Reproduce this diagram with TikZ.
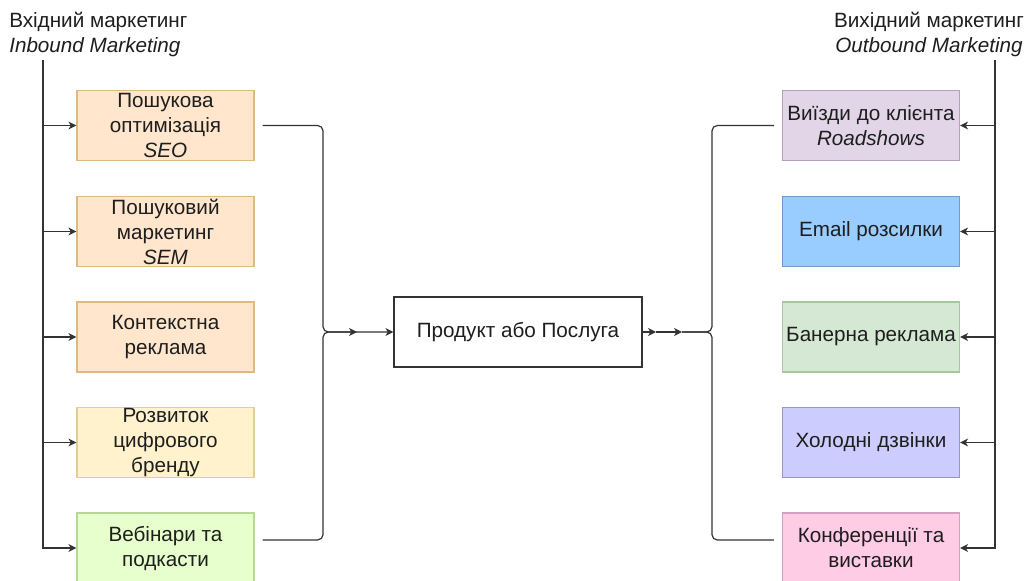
\documentclass[tikz,border=0pt]{standalone}
\usepackage{fontspec}
\setmainfont{Liberation Sans}
\usetikzlibrary{arrows.meta}
\definecolor{txt}{HTML}{1E1E1E}
\definecolor{ln}{HTML}{333333}
\definecolor{orF}{RGB}{255,230,204}\definecolor{orD}{RGB}{222,186,130}
\definecolor{yeF}{RGB}{255,242,204}\definecolor{yeD}{RGB}{226,206,150}
\definecolor{lgF}{RGB}{230,255,204}\definecolor{lgD}{RGB}{182,216,150}
\definecolor{puF}{RGB}{225,213,231}\definecolor{puD}{RGB}{180,160,190}
\definecolor{blF}{RGB}{153,204,255}\definecolor{blD}{RGB}{112,155,205}
\definecolor{grF}{RGB}{213,232,212}\definecolor{grD}{RGB}{165,200,158}
\definecolor{laF}{RGB}{204,204,255}\definecolor{laD}{RGB}{150,150,205}
\definecolor{piF}{RGB}{255,204,230}\definecolor{piD}{RGB}{212,160,192}
\tikzset{
  lbl/.style={font=\fontsize{15.5pt}{18.75pt}\selectfont, text=txt, inner sep=0pt},
  box/.style={lbl, draw, line width=0.9pt, align=center, minimum width=132.75pt, minimum height=52.5pt},
  conn/.style={draw=ln, line width=0.9pt},
  tip/.style={-{Stealth[length=6pt,width=6pt,inset=1.8pt]}},
}
\begin{document}
\begin{tikzpicture}[x=0.75pt,y=-0.75pt]
\useasboundingbox (0,0) rectangle (1033,581);
% headers
\node[lbl, anchor=base west] (hl1) at (9,28) {Вхідний маркетинг};
\node[lbl, anchor=base west] (hl2) at (9,53) {\itshape Inbound Marketing};
\node[lbl, anchor=base] (hr1) at (929,28) {Вихідний маркетинг};
\node[lbl, anchor=base] (hr2) at (929,53) {\itshape Outbound Marketing};
% left boxes
\node[box, fill=orF, draw=orD] (l1) at (165.5,125.5) {Пошукова\\оптимізація\\\itshape SEO};
\node[box, fill=orF, draw=orD] (l2) at (165.5,231.5) {Пошуковий\\маркетинг\\\itshape SEM};
\node[box, fill=orF, draw=orD] (l3) at (165.5,337) {Контекстна\\реклама};
\node[box, fill=yeF, draw=yeD] (l4) at (165.5,442.5) {Розвиток\\цифрового\\бренду};
\node[box, fill=lgF, draw=lgD] (l5) at (165.5,548) {Вебінари та\\подкасти};
% right boxes
\node[box, fill=puF, draw=puD] (r1) at (871,125.5) {Виїзди до клієнта\\\itshape Roadshows};
\node[box, fill=blF, draw=blD] (r2) at (871,231.5) {Email розсилки};
\node[box, fill=grF, draw=grD] (r3) at (871,337) {Банерна реклама};
\node[box, fill=laF, draw=laD] (r4) at (871,442.5) {Холодні дзвінки};
\node[box, fill=piF, draw=piD] (r5) at (871,548) {Конференції та\\виставки};
% centre
\node[box, fill=white, draw=ln, minimum width=186pt] (c) at (518,332) {Продукт або Послуга};
% coordinates
\coordinate (ltop) at (43,60);
\coordinate (rtop) at (995,60);
\coordinate (lj) at (323,332);
\coordinate (lm) at (357,332);
\coordinate (rm1) at (656,332);
\coordinate (rm2) at (682,332);
\coordinate (rj) at (712,332);
% left trunk
\draw[conn, tip] (ltop) |- (l5.west);
\foreach \n in {l1,l2,l3,l4}{\draw[conn, tip] (ltop |- \n.west) -- (\n.west);}
% right trunk
\draw[conn, tip] (rtop) |- (r5.east);
\foreach \n in {r1,r2,r3,r4}{\draw[conn, tip] (rtop |- \n.east) -- (\n.east);}
% left to centre
\draw[conn, tip, rounded corners=4pt] ([xshift=6pt]l1.east) -| (lj) -- (lm);
\draw[conn, tip, rounded corners=4pt] ([xshift=6pt,yshift=6pt]l5.east) -| (lj) -- (c.west);
% centre to right
\draw[conn, tip] (c.east) -- (rm1);
\draw[conn, tip] (rm1) -- (rm2);
\draw[conn, rounded corners=4pt] (rm2) -- (rj) |- ([xshift=-6pt]r1.west);
\draw[conn, rounded corners=4pt] (rm2) -- (rj) |- ([xshift=-6pt,yshift=6pt]r5.west);
\end{tikzpicture}
\end{document}
